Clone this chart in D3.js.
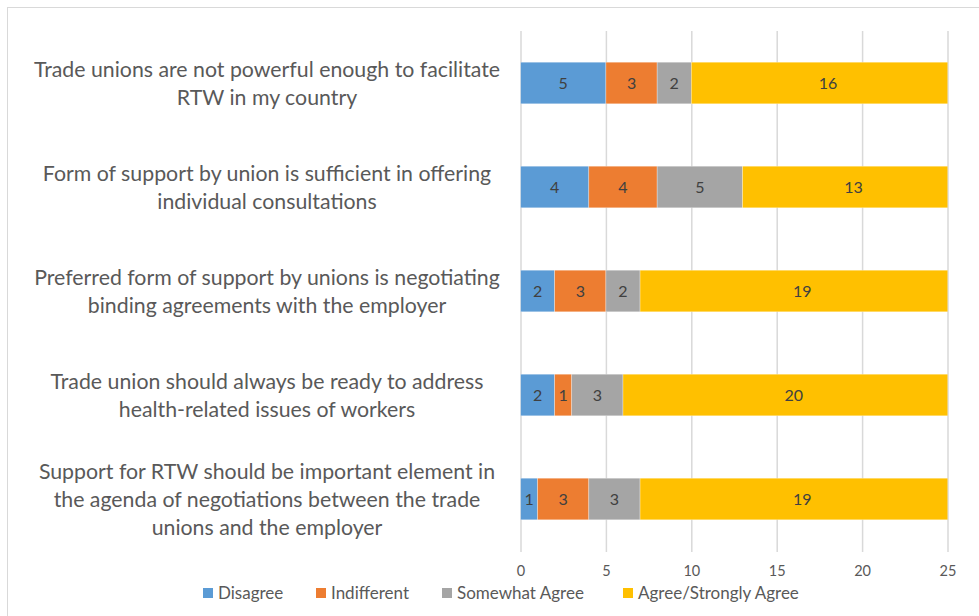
<!DOCTYPE html>
<html>
<head>
<meta charset="utf-8">
<script src="https://cdn.jsdelivr.net/npm/d3@7"></script>
<style>
  html, body { margin: 0; padding: 0; background: #fff; }
  svg { display: block; font-family: Lato, "Open Sans", sans-serif; }
</style>
</head>
<body>
<svg id="chart" width="979" height="616"></svg>
<script>
// Survey statements (top to bottom) and answer counts per response category
const statements = [
  ["Trade unions are not powerful enough to facilitate", "RTW in my country"],
  ["Form of support by union is sufficient in offering", "individual consultations"],
  ["Preferred form of support by unions is negotiating", "binding agreements with the employer"],
  ["Trade union should always be ready to address", "health-related issues of workers"],
  ["Support for RTW should be important element in", "the agenda of negotiations between the trade", "unions and the employer"]
];
const seriesNames = ["Disagree", "Indifferent", "Somewhat Agree", "Agree/Strongly Agree"];
const seriesColors = ["#5B9BD5", "#ED7D31", "#A5A5A5", "#FFC000"];
const disagree     = [5, 4, 2, 2, 1];
const indifferent  = [3, 4, 3, 1, 3];
const somewhat     = [2, 5, 2, 3, 3];
const agree        = [16, 13, 19, 20, 19];
const xTicks = [0, 5, 10, 15, 20, 25];
const xMax = 25;

const svg = d3.select("#chart");
const W = 979, H = 616;

// chart frame
svg.append("rect")
  .attr("x", 7.5).attr("y", 7.5)
  .attr("width", W + 10).attr("height", H + 10)
  .attr("fill", "#fff").attr("stroke", "#D9D9D9").attr("stroke-width", 1);

const plot = { left: 520.5, right: 947.5, top: 31, bottom: 551 };

const x = d3.scaleLinear().domain([0, xMax]).range([plot.left, plot.right]);
const y = d3.scaleBand()
  .domain(d3.range(statements.length))
  .range([plot.top, plot.bottom])
  .paddingInner(0.6).paddingOuter(0.3);

// bars are clipped at the fixed axis maximum
svg.append("clipPath").attr("id", "plotClip")
  .append("rect")
  .attr("x", plot.left).attr("y", plot.top)
  .attr("width", plot.right - plot.left).attr("height", plot.bottom - plot.top);

// vertical gridlines
const gridG = svg.append("g")
  .attr("transform", `translate(0,${plot.bottom + 1})`)
  .call(d3.axisBottom(x).tickValues(xTicks).tickSize(0).tickFormat(""));
gridG.select(".domain").remove();
gridG.selectAll(".tick line")
  .attr("y2", -(plot.bottom + 1 - plot.top))
  .attr("stroke", "#D9D9D9").attr("stroke-width", 1.5);

// x axis tick labels
const axisG = svg.append("g")
  .attr("transform", `translate(0,${plot.bottom})`)
  .call(d3.axisBottom(x).tickValues(xTicks).tickSize(0).tickPadding(15));
axisG.select(".domain").remove();
axisG.selectAll("text")
  .attr("fill", "#595959").style("font-size", "14.5px")
  .style("font-family", "Lato, 'Open Sans', sans-serif");

// stacked bars
const rows = statements.map((s, i) => ({
  i,
  values: [disagree[i], indifferent[i], somewhat[i], agree[i]]
}));
const stack = d3.stack().keys([0, 1, 2, 3]).value((d, k) => d.values[k]);
const layers = stack(rows);

const barsG = svg.append("g").attr("clip-path", "url(#plotClip)");
const labelsG = svg.append("g");
layers.forEach((layer, k) => {
  barsG.append("g").selectAll("rect").data(layer).join("rect")
    .attr("x", d => x(d[0]))
    .attr("y", d => y(d.data.i))
    .attr("width", d => x(d[1]) - x(d[0]))
    .attr("height", y.bandwidth())
    .attr("fill", seriesColors[k])
    .attr("stroke", "#fff").attr("stroke-opacity", 0.5).attr("stroke-width", 0.6);
  labelsG.append("g").selectAll("text").data(layer).join("text")
    .attr("x", d => (x(d[0]) + x(d[1])) / 2)
    .attr("y", d => y(d.data.i) + y.bandwidth() / 2)
    .attr("dy", "0.36em")
    .attr("text-anchor", "middle")
    .attr("fill", "#404040")
    .style("font-size", "16px")
    .text(d => d[1] - d[0]);
});

// category labels, centered multi-line blocks
const labelX = 267;
const lineH = 28;
statements.forEach((lines, i) => {
  const cy = y(i) + y.bandwidth() / 2;
  const t = svg.append("text")
    .attr("x", labelX)
    .attr("text-anchor", "middle")
    .attr("fill", "#595959")
    .style("font-size", "21.3px");
  lines.forEach((ln, j) => {
    t.append("tspan")
      .attr("x", labelX)
      .attr("y", cy + (j - (lines.length - 1) / 2) * lineH)
      .attr("dy", "0.36em")
      .text(ln);
  });
});

// legend
const legendItems = [
  { name: seriesNames[0], sx: 203 },
  { name: seriesNames[1], sx: 316 },
  { name: seriesNames[2], sx: 442 },
  { name: seriesNames[3], sx: 623 }
];
const legY = 593;
const lg = svg.append("g");
legendItems.forEach((it, k) => {
  lg.append("rect")
    .attr("x", it.sx).attr("y", legY - 5)
    .attr("width", 10).attr("height", 10)
    .attr("fill", seriesColors[k]);
  lg.append("text")
    .attr("x", it.sx + 15).attr("y", legY)
    .attr("dy", "0.36em")
    .attr("fill", "#595959")
    .style("font-size", "17px")
    .text(it.name);
});
</script>
</body>
</html>
